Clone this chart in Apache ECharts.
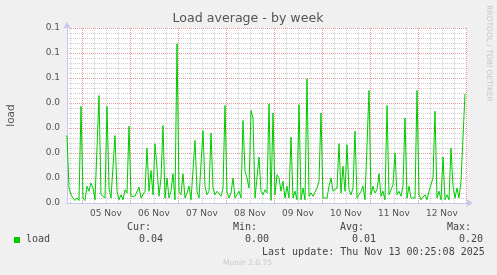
<!DOCTYPE html>
<html><head><meta charset="utf-8">
<script src="https://cdn.jsdelivr.net/npm/echarts@6/dist/echarts.min.js"></script>
<style>html,body{margin:0;padding:0;background:#f0f0f0}#c{width:497px;height:275px}</style>
</head><body><div id="c"></div>
<script>
const chartTitle = 'Load average - by week';
const yAxisName = 'load';
const dayLabels = ['05 Nov', '06 Nov', '07 Nov', '08 Nov', '09 Nov', '10 Nov', '11 Nov', '12 Nov'];
const yTickLabels = ['0.0', '0.0', '0.0', '0.0', '0.0', '0.1', '0.1', '0.1'];
const yMax = 0.07;
const yStep = 0.01;
const startHour = -7.5;    // first sample, hours relative to 05 Nov 00:00 (04 Nov 16:30)
const stepHours = 1;       // sample spacing
const slotHours = 0.5;     // grid resolution (one 30-min slot per pixel column)
const loadValues = [
  0.027, 0.006, 0.0033, 0.002, 0.001, 0.002, 0.001, 0.0387, 0.002, 0.001,
  0.0067, 0.0047, 0.008, 0.006, 0.0013, 0.002, 0.043, 0.0033, 0.004, 0.002,
  0.0387, 0.006, 0.002, 0.002, 0.027, 0.0047, 0.0013, 0.0033, 0.0013, 0.0053,
  0.004, 0.0307, 0.0027,
  0.002, 0.0027, 0.002, 0.0064, 0.002, 0.0013, 0.0047, 0.022, 0.0047, 0.013,
  0.0033, 0.0237, 0.014, 0.0027, 0.01, 0.031, 0.002, 0.01, 0.002, 0.0047,
  0.0117, 0.0013, 0.0637, 0.0047, 0.0033, 0.0117, 0.002, 0.004, 0.0068, 0.0013,
  0.002, 0.025, 0.0047, 0.002,
  0.002, 0.029, 0.0067, 0.0033, 0.0047, 0.028, 0.006, 0.0033, 0.0047, 0.0047,
  0.0027, 0.006, 0.039, 0.0047, 0.002, 0.004, 0.01, 0.002, 0.0033, 0.0047,
  0.002, 0.033, 0.0127, 0.01, 0.006, 0.037, 0.034, 0.002, 0.0027, 0.0184,
  0.0047, 0.0033, 0.0053, 0.004, 0.0397,
  0.001, 0.036, 0.0033, 0.0113, 0.01, 0.0047, 0.0087, 0.002, 0.0067, 0.002,
  0.0264, 0.002, 0.0047, 0.0013, 0.0393, 0.0013, 0.006, 0.0013, 0.0497, 0.0027,
  0.004, 0.0027, 0.002, 0.006, 0.0087, 0.036, 0.002, 0.0013, 0.002, 0.0067,
  0.01, 0.0047, 0.004, 0.006,
  0.0237, 0.004, 0.0147, 0.0047, 0.0233, 0.0053, 0.0033, 0.006, 0.0287, 0.002,
  0.0033, 0.0047, 0.0067, 0.0013, 0.002, 0.045, 0.0033, 0.0067, 0.004, 0.0053,
  0.0117, 0.0027, 0.0047, 0.0013, 0.039, 0.0033, 0.004, 0.0073, 0.02, 0.0033,
  0.0047, 0.0027, 0.0067, 0.034,
  0.002, 0.0067, 0.002, 0.0013, 0.002, 0.045, 0.0033, 0.0013, 0.0013, 0.0033,
  0.0013, 0.0047, 0.004, 0.01, 0.0367, 0.002, 0.0047, 0.0013, 0.0184, 0.0013,
  0.0033, 0.0013, 0.022, 0.0067, 0.002, 0.006, 0.002, 0.0087, 0.008, 0.0437
];
const legendName = 'load';
const statHeaders = ['Cur:', 'Min:', 'Avg:', 'Max:'];
const statValues = ['0.04', '0.00', '0.01', '0.20'];
const lastUpdate = 'Last update: Thu Nov 13 00:25:08 2025';
const footerText = 'Munin 2.0.75';
const sideText = 'RRDTOOL / TOBI OETIKER';

const xMin = startHour;
const xMax = startHour + loadValues.length * stepHours;
const seriesData = loadValues.map((v, i) => [startHour + i * stepHours, v]);

// time slots used for the grid and the day labels
const slotCount = Math.round((xMax - xMin) / slotHours) + 1;
const slots = Array.from({ length: slotCount }, (_, k) => String(xMin + k * slotHours));
const hourOf = k => xMin + k * slotHours;
const mod = (a, b) => ((a % b) + b) % b;
const isMidnight = k => Math.abs(mod(hourOf(k), 24)) < 1e-9;
const isSixHour = k => Math.abs(mod(hourOf(k), 6)) < 1e-9 && !isMidnight(k);
const dayLabelAt = k => {
  const h = hourOf(k) - 12;
  if (Math.abs(mod(h, 24)) > 1e-9) return '';
  const d = Math.round(h / 24);
  return (d >= 0 && d < dayLabels.length) ? dayLabels[d] : '';
};

const axisColor = '#c6c6ee';
const majorLine = { color: 'rgba(225,120,120,0.75)', width: 1, type: [1, 1] };
const minorLine = { color: '#cfcfcf', width: 1, type: [1, 1] };
const mono = '"DejaVu Sans Mono", monospace';
const sans = '"DejaVu Sans", sans-serif';
const textColor = '#444';

const chart = echarts.init(document.getElementById('c'), null, { renderer: 'canvas' });

const statHeaderX = [127, 233, 340, 447];
const statValueX = [139, 245, 352, 459];
const graphics = [
  { type: 'text', x: 248, y: 19, style: { text: chartTitle, font: '12.6px ' + sans, fill: '#555', align: 'center', verticalAlign: 'middle' } },
  { type: 'text', x: 488.5, y: 53.5, rotation: -Math.PI / 2, style: { text: sideText, font: '7.5px ' + sans, fill: '#c8c8c8', align: 'center', verticalAlign: 'middle' } },
  { type: 'rect', shape: { x: 14, y: 237, width: 6, height: 6 }, style: { fill: '#00cc00' } },
  { type: 'text', x: 26, y: 239.5, style: { text: legendName, font: '10px ' + mono, fill: textColor, align: 'left', verticalAlign: 'middle' } },
  { type: 'text', x: 262, y: 252, style: { text: lastUpdate, font: '10px ' + mono, fill: textColor, align: 'left', verticalAlign: 'middle' } },
  { type: 'text', x: 223, y: 263.5, style: { text: footerText, font: '7.5px ' + sans, fill: '#c8c8c8', align: 'left', verticalAlign: 'middle' } }
];
statHeaders.forEach((h, k) => {
  graphics.push({ type: 'text', x: statHeaderX[k], y: 227.5, style: { text: h, font: '10px ' + mono, fill: textColor, align: 'left', verticalAlign: 'middle' } });
  graphics.push({ type: 'text', x: statValueX[k], y: 239.5, style: { text: statValues[k], font: '10px ' + mono, fill: textColor, align: 'left', verticalAlign: 'middle' } });
});

chart.setOption({
  animation: false,
  backgroundColor: '#f0f0f0',
  grid: { left: 67, top: 28, width: 400, height: 175, show: true, backgroundColor: '#ffffff', borderWidth: 0, containLabel: false, outerBoundsMode: 'none' },
  xAxis: [
    {
      type: 'value', position: 'bottom', min: xMin, max: xMax,
      axisLine: { show: true, onZero: false, lineStyle: { color: axisColor, width: 1 }, symbol: ['none', 'arrow'], symbolSize: [6, 7], symbolOffset: [0, 6] },
      axisTick: { show: false }, axisLabel: { show: false }, splitLine: { show: false }, z: 3
    },
    {
      type: 'category', position: 'bottom', data: slots, boundaryGap: false,
      axisLine: { show: false }, axisTick: { show: false },
      axisLabel: { show: true, interval: 0, margin: 6, fontSize: 9, fontFamily: sans, color: '#555', formatter: (v, k) => dayLabelAt(k) },
      splitLine: { show: true, interval: k => isMidnight(k), lineStyle: majorLine }
    },
    {
      type: 'category', position: 'bottom', data: slots, boundaryGap: false,
      axisLine: { show: false }, axisTick: { show: false }, axisLabel: { show: false },
      splitLine: { show: true, interval: k => isSixHour(k), lineStyle: minorLine }
    }
  ],
  yAxis: {
    type: 'value', min: 0, max: yMax, interval: yStep,
    name: yAxisName, nameLocation: 'middle', nameGap: 50, nameRotate: 90, nameMoveOverlap: false,
    nameTextStyle: { fontSize: 10.5, fontFamily: sans, color: '#555' },
    axisLine: { show: true, onZero: false, lineStyle: { color: axisColor, width: 1 }, symbol: ['none', 'arrow'], symbolSize: [6, 7], symbolOffset: [0, 6] },
    axisTick: { show: false },
    axisLabel: { margin: 7, fontSize: 9, fontFamily: sans, color: '#555', formatter: v => yTickLabels[Math.round(v / yStep)] },
    splitLine: { show: true, showMinLine: false, lineStyle: majorLine },
    minorTick: { show: false, splitNumber: 5 },
    minorSplitLine: { show: true, lineStyle: minorLine }
  },
  series: [{
    type: 'line', xAxisIndex: 0, data: seriesData, showSymbol: false, symbol: 'none',
    lineStyle: { color: '#00cc00', width: 1 }, itemStyle: { color: '#00cc00' }, z: 5
  }],
  graphic: graphics
});
</script></body></html>
